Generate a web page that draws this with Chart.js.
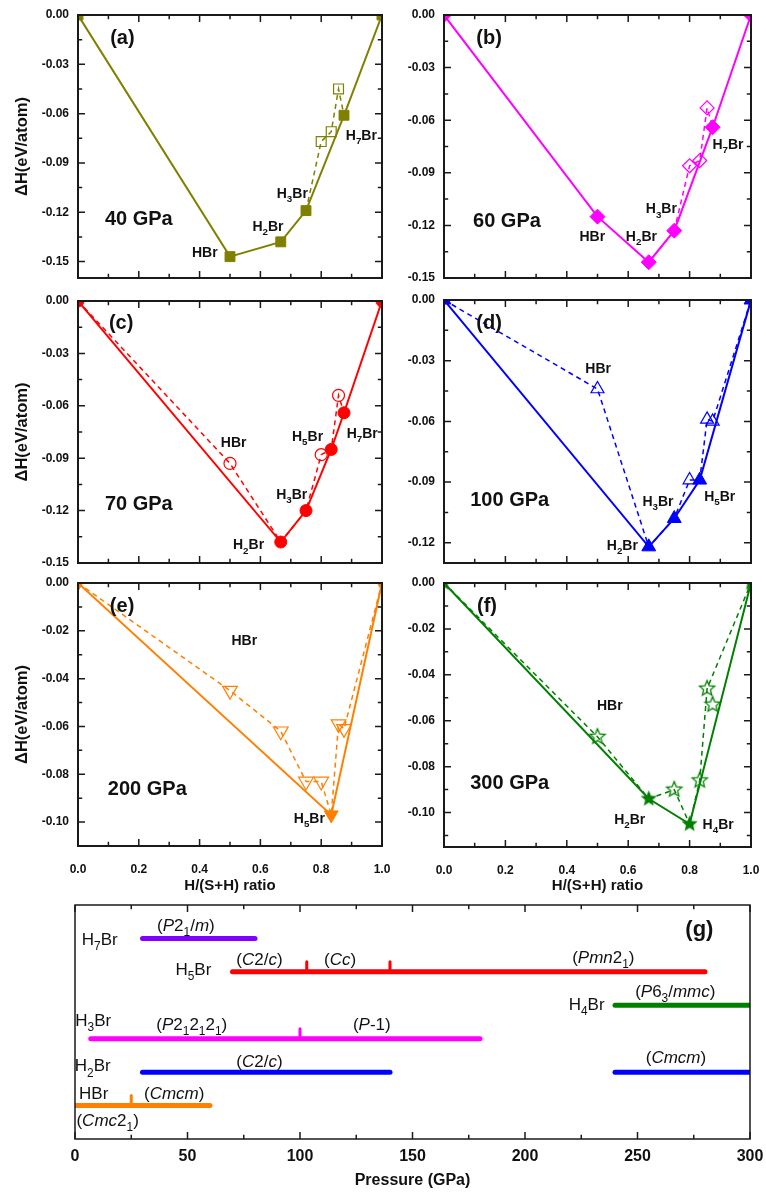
<!DOCTYPE html>
<html>
<head>
<meta charset="utf-8">
<script src="https://cdn.jsdelivr.net/npm/chart.js@4"></script>
<style>
  body { margin: 0; background: #fff; width: 766px; height: 1193px; position: relative; overflow: hidden; }
  canvas { position: absolute; }
</style>
</head>
<body>
<canvas id="pa" width="392" height="290" style="left:0;top:0"></canvas>
<canvas id="pb" width="383" height="290" style="left:383px;top:0"></canvas>
<canvas id="pc" width="392" height="290" style="left:0;top:290px"></canvas>
<canvas id="pd" width="383" height="290" style="left:383px;top:290px"></canvas>
<canvas id="pe" width="392" height="330" style="left:0;top:570px"></canvas>
<canvas id="pf" width="383" height="330" style="left:383px;top:570px"></canvas>
<canvas id="pg" width="766" height="298" style="left:0;top:895px"></canvas>
<script>
// tick values
const ratioTicks = [0, 0.2, 0.4, 0.6, 0.8, 1.0];
const dHTicks15 = [0, -0.03, -0.06, -0.09, -0.12, -0.15];
const dHTicks12 = [0, -0.03, -0.06, -0.09, -0.12];
const dHTicks10 = [0, -0.02, -0.04, -0.06, -0.08, -0.10];
const pressureTicks = [0, 50, 100, 150, 200, 250, 300];

// 40 GPa : [H/(S+H), dH]
const stable40 = [[0, 0], [0.5, -0.147], [0.667, -0.138], [0.75, -0.119], [0.875, -0.061], [1, 0]];
const meta40 = [[0.8, -0.077], [0.833, -0.071], [0.857, -0.045]];
const dash40 = [[0.75, -0.119], [0.8, -0.077], [0.833, -0.071], [0.857, -0.045], [0.875, -0.061]];

// 60 GPa
const stable60 = [[0, 0], [0.5, -0.115], [0.667, -0.141], [0.75, -0.123], [0.875, -0.064], [1, 0]];
const meta60 = [[0.8, -0.086], [0.833, -0.083], [0.857, -0.053]];
const dash60 = [[0.75, -0.123], [0.8, -0.086], [0.833, -0.083], [0.857, -0.053], [0.875, -0.064]];

// 70 GPa
const stable70 = [[0, 0], [0.667, -0.138], [0.75, -0.120], [0.833, -0.085], [0.875, -0.064], [1, 0]];
const meta70 = [[0.5, -0.093], [0.8, -0.088], [0.857, -0.054]];
const dash70 = [[0, 0], [0.5, -0.093], [0.667, -0.138], [0.75, -0.120], [0.8, -0.088], [0.833, -0.085], [0.857, -0.054], [0.875, -0.064]];

// 100 GPa
const stable100 = [[0, 0], [0.667, -0.122], [0.75, -0.108], [0.833, -0.089], [1, 0]];
const meta100 = [[0.5, -0.044], [0.8, -0.089], [0.857, -0.059], [0.875, -0.060]];
const dash100 = [[0, 0], [0.5, -0.044], [0.667, -0.122], [0.75, -0.108], [0.8, -0.089], [0.833, -0.089], [0.857, -0.059], [0.875, -0.060], [1, 0]];

// 200 GPa
const stable200 = [[0, 0], [0.833, -0.097], [1, 0]];
const meta200 = [[0.5, -0.045], [0.667, -0.062], [0.75, -0.083], [0.8, -0.083], [0.857, -0.059], [0.875, -0.061]];
const dash200 = [[0, 0], [0.5, -0.045], [0.667, -0.062], [0.75, -0.083], [0.8, -0.083], [0.833, -0.097], [0.857, -0.059], [0.875, -0.061], [1, 0]];

// 300 GPa
const stable300 = [[0, 0], [0.667, -0.094], [0.8, -0.105], [1, 0]];
const meta300 = [[0.5, -0.067], [0.75, -0.090], [0.833, -0.086], [0.857, -0.046], [0.875, -0.053]];
const dash300 = [[0, 0], [0.5, -0.067], [0.667, -0.094], [0.75, -0.090], [0.8, -0.105], [0.833, -0.086], [0.857, -0.046], [1, 0]];

// (g) stability ranges, pressure in GPa, row 1 = H7Br ... row 6 = HBr
const phaseRow = [1, 2, 3, 4, 5, 5, 6];
const phaseStart = [30, 70, 240, 7, 30, 240, 0];
const phaseEnd = [80, 280, 300, 180, 140, 300, 60];
const transRow = [2, 2, 4, 6];
const transP = [103, 140, 100, 25];

const FONT = 'Arial, "Liberation Sans", Helvetica, sans-serif';
const rowColors = { 1: '#8000ff', 2: '#ff0000', 3: '#008000', 4: '#ff00ff', 5: '#0000ff', 6: '#ff8000' };

const pts = arr => arr.map(p => ({ x: p[0], y: p[1] }));

function starImg(r, color, filled) {
  const c = document.createElement('canvas');
  const s = Math.ceil(2 * r + 4);
  c.width = c.height = s;
  const g = c.getContext('2d');
  g.beginPath();
  for (let i = 0; i < 10; i++) {
    const a = -Math.PI / 2 + i * Math.PI / 5;
    const rr = i % 2 ? r * 0.45 : r;
    g.lineTo(s / 2 + rr * Math.cos(a), s / 2 + rr * Math.sin(a));
  }
  g.closePath();
  if (filled) { g.fillStyle = color; g.fill(); }
  else { g.strokeStyle = color; g.lineWidth = 1.3; g.stroke(); }
  return c;
}

// text with _x subscripts and *italic* toggles
function drawRich(ctx, str, cx, cy, size, bold) {
  const segs = [];
  let italic = false;
  for (let i = 0; i < str.length; i++) {
    const ch = str[i];
    if (ch === '*') { italic = !italic; continue; }
    if (ch === '_') { segs.push({ t: str[i + 1], sub: true, it: italic }); i++; continue; }
    const last = segs[segs.length - 1];
    if (last && !last.sub && last.it === italic) last.t += ch;
    else segs.push({ t: ch, sub: false, it: italic });
  }
  const fontOf = s => (s.it ? 'italic ' : '') + (bold ? 'bold ' : '') + (s.sub ? size * 0.7 : size) + 'px ' + FONT;
  let total = 0;
  segs.forEach(s => { ctx.font = fontOf(s); s.w = ctx.measureText(s.t).width; total += s.w; });
  let x = cx - total / 2;
  ctx.textBaseline = 'middle';
  ctx.textAlign = 'left';
  segs.forEach(s => {
    ctx.font = fontOf(s);
    ctx.fillText(s.t, x, s.sub ? cy + size * 0.38 : cy);
    x += s.w;
  });
}

const framePlugin = {
  id: 'frame',
  afterDatasetsDraw(chart, args, opts) {
    const { ctx, chartArea: a, scales } = chart;
    ctx.save();
    ctx.strokeStyle = '#1a1a1a';
    ctx.lineWidth = opts.width || 2;
    ctx.strokeRect(a.left, a.top, a.right - a.left, a.bottom - a.top);
    ctx.lineWidth = 1.5;
    const mark = (scale, horiz, len) => {
      const vals = scale.ticks.map(t => t.value);
      const minor = [];
      for (let i = 0; i < vals.length - 1; i++) minor.push((vals[i] + vals[i + 1]) / 2);
      const step = vals[1] - vals[0];
      const ext = vals[vals.length - 1] + step / 2;
      if (ext >= Math.min(scale.min, scale.max) && ext <= Math.max(scale.min, scale.max)) minor.push(ext);
      const draw = (v, l) => {
        const p = scale.getPixelForValue(v);
        ctx.beginPath();
        if (horiz) {
          ctx.moveTo(p, a.bottom); ctx.lineTo(p, a.bottom - l);
          ctx.moveTo(p, a.top); ctx.lineTo(p, a.top + l);
        } else {
          ctx.moveTo(a.left, p); ctx.lineTo(a.left + l, p);
          ctx.moveTo(a.right, p); ctx.lineTo(a.right - l, p);
        }
        ctx.stroke();
      };
      vals.forEach(v => draw(v, len));
      minor.forEach(v => draw(v, len * 0.6));
    };
    mark(scales.x, true, 7);
    if (!opts.noY) mark(scales.y, false, 7);
    ctx.restore();
  },
  afterDraw(chart, args, opts) {
    const notes = opts.notes || [];
    const { ctx, scales } = chart;
    ctx.save();
    ctx.fillStyle = '#111';
    notes.forEach(n => {
      drawRich(ctx, n[0], scales.x.getPixelForValue(n[1]), scales.y.getPixelForValue(n[2]), n[3], n[4] !== false);
    });
    ctx.restore();
  }
};
Chart.register(framePlugin);

function makePanel(cfg) {
  const c = cfg.color;
  const filledStyle = cfg.star ? starImg(8.5, c, true) : cfg.style;
  const openStyle = cfg.star ? starImg(8, c, false) : cfg.style;
  new Chart(document.getElementById(cfg.id), {
    type: 'line',
    data: {
      datasets: [
        {
          data: pts(cfg.stable), borderColor: c, borderWidth: 2, tension: 0,
          pointStyle: filledStyle, pointRadius: cfg.rFilled, pointRotation: cfg.rot || 0,
          pointBackgroundColor: c, pointBorderColor: c, pointBorderWidth: 1
        },
        {
          data: pts(cfg.meta), showLine: false,
          pointStyle: openStyle, pointRadius: cfg.rOpen, pointRotation: cfg.rot || 0,
          pointBackgroundColor: 'rgba(255,255,255,0)', pointBorderColor: c, pointBorderWidth: 1.2
        },
        {
          data: pts(cfg.dash), borderColor: c, borderWidth: 1.5, borderDash: [5, 4], tension: 0, pointRadius: 0
        }
      ]
    },
    options: {
      responsive: false,
      animation: false,
      events: [],
      layout: { padding: cfg.pad },
      plugins: {
        legend: { display: false },
        tooltip: { enabled: false },
        frame: { notes: cfg.notes, width: 2 }
      },
      scales: {
        x: {
          type: 'linear', min: 0, max: 1,
          afterBuildTicks: s => { s.ticks = ratioTicks.map(v => ({ value: v })); },
          afterFit: s => { s.height = cfg.xH; s.paddingLeft = 0; s.paddingRight = 0; },
          grid: { display: false, drawTicks: false },
          border: { display: false },
          ticks: {
            display: cfg.xLabels, padding: 16, maxRotation: 0, autoSkip: false, color: '#111',
            font: { family: FONT, size: 12, weight: 'bold' },
            callback: v => v.toFixed(1)
          },
          title: {
            display: cfg.xLabels, text: 'H/(S+H) ratio', color: '#111',
            font: { family: FONT, size: 15, weight: 'bold' }, padding: { top: 0, bottom: 5 }
          }
        },
        y: {
          type: 'linear', min: cfg.yMin, max: 0,
          afterBuildTicks: s => { s.ticks = cfg.yTicks.map(v => ({ value: v })); },
          afterFit: s => { s.width = cfg.yW; s.paddingTop = 0; s.paddingBottom = 0; },
          grid: { display: false, drawTicks: false },
          border: { display: false },
          ticks: {
            padding: 9, color: '#111',
            font: { family: FONT, size: 12, weight: 'bold' },
            callback: v => v.toFixed(2)
          },
          title: {
            display: cfg.yTitle, text: '\u0394H(eV/atom)', color: '#111',
            font: { family: FONT, size: 16.5, weight: 'bold' }, padding: { top: 13, bottom: 0 }
          }
        }
      }
    }
  });
}

const L = { yW: 78, yTitle: true };
const R = { yW: 61, yTitle: false };

makePanel(Object.assign({}, L, {
  id: 'pa', color: '#808000', style: 'rect', rFilled: 7, rOpen: 7,
  stable: stable40, meta: meta40, dash: dash40, yMin: -0.16, yTicks: dHTicks15,
  xLabels: false, xH: 0, pad: { left: 0, right: 10, top: 15, bottom: 12 },
  notes: [['(a)', 0.146, -0.0141, 20], ['40 GPa', 0.2, -0.1245, 20], ['HBr', 0.417, -0.1447, 14],
          ['H_2Br', 0.625, -0.129, 14], ['H_3Br', 0.705, -0.109, 14], ['H_7Br', 0.932, -0.0735, 14]]
}));

makePanel(Object.assign({}, R, {
  id: 'pb', color: '#ff00ff', style: 'rectRot', rFilled: 7.5, rOpen: 7,
  stable: stable60, meta: meta60, dash: dash60, yMin: -0.15, yTicks: dHTicks15,
  xLabels: false, xH: 0, pad: { left: 0, right: 15, top: 15, bottom: 12 },
  notes: [['(b)', 0.147, -0.0133, 20], ['60 GPa', 0.205, -0.118, 20], ['HBr', 0.483, -0.1265, 14],
          ['H_2Br', 0.643, -0.1265, 14], ['H_3Br', 0.708, -0.111, 14], ['H_7Br', 0.925, -0.0742, 14]]
}));

makePanel(Object.assign({}, L, {
  id: 'pc', color: '#ff0000', style: 'circle', rFilled: 6, rOpen: 6,
  stable: stable70, meta: meta70, dash: dash70, yMin: -0.15, yTicks: dHTicks15,
  xLabels: false, xH: 0, pad: { left: 0, right: 10, top: 11, bottom: 17 },
  notes: [['(c)', 0.142, -0.0129, 20], ['70 GPa', 0.2, -0.1164, 20], ['HBr', 0.512, -0.0816, 14],
          ['H_5Br', 0.755, -0.0778, 14], ['H_7Br', 0.935, -0.0763, 14], ['H_3Br', 0.703, -0.111, 14],
          ['H_2Br', 0.561, -0.140, 14]]
}));

makePanel(Object.assign({}, R, {
  id: 'pd', color: '#0000ff', style: 'triangle', rFilled: 8, rOpen: 7.5,
  stable: stable100, meta: meta100, dash: dash100, yMin: -0.13, yTicks: dHTicks12,
  xLabels: false, xH: 0, pad: { left: 0, right: 15, top: 10, bottom: 17 },
  notes: [['(d)', 0.147, -0.0115, 20], ['100 GPa', 0.214, -0.0992, 20], ['HBr', 0.502, -0.0343, 14],
          ['H_3Br', 0.697, -0.1, 14], ['H_5Br', 0.898, -0.0973, 14], ['H_2Br', 0.581, -0.1217, 14]]
}));

makePanel(Object.assign({}, L, {
  id: 'pe', color: '#ff8000', style: 'triangle', rot: 180, rFilled: 8, rOpen: 8.5,
  stable: stable200, meta: meta200, dash: dash200, yMin: -0.11, yTicks: dHTicks10,
  xLabels: true, xH: 54, pad: { left: 0, right: 10, top: 13, bottom: 0 },
  notes: [['(e)', 0.145, -0.0097, 20], ['200 GPa', 0.228, -0.0862, 20], ['HBr', 0.547, -0.0243, 14],
          ['H_5Br', 0.761, -0.0987, 14]]
}));

makePanel(Object.assign({}, R, {
  id: 'pf', color: '#008000', star: true, rFilled: 8, rOpen: 7,
  stable: stable300, meta: meta300, dash: dash300, yMin: -0.115, yTicks: dHTicks10,
  xLabels: true, xH: 53, pad: { left: 0, right: 15, top: 13, bottom: 0 },
  notes: [['(f)', 0.14, -0.0102, 20], ['300 GPa', 0.214, -0.0873, 20], ['HBr', 0.54, -0.0536, 14],
          ['H_2Br', 0.605, -0.1032, 14], ['H_4Br', 0.893, -0.1055, 14]]
}));

// (g) pressure ranges
const gSets = phaseRow.map((r, i) => ({
  data: [{ x: phaseStart[i], y: r }, { x: phaseEnd[i], y: r }],
  borderColor: rowColors[r], borderWidth: 5, borderCapStyle: 'round', pointRadius: 0, clip: 0
})).concat(transRow.map((r, i) => ({
  data: [{ x: transP[i], y: r }, { x: transP[i], y: r - 0.3 }],
  borderColor: rowColors[r], borderWidth: 3, borderCapStyle: 'round', pointRadius: 0, clip: 0
})));

new Chart(document.getElementById('pg'), {
  type: 'line',
  data: { datasets: gSets },
  options: {
    responsive: false,
    animation: false,
    events: [],
    layout: { padding: { left: 75, right: 16, top: 10, bottom: 0 } },
    plugins: {
      legend: { display: false },
      tooltip: { enabled: false },
      frame: {
        width: 1.5, noY: true,
        notes: [
          ['H_7Br', 11, 1.05, 17, false], ['(*P*2_1/*m*)', 49.3, 0.65, 17, false],
          ['H_5Br', 52.6, 1.94, 17, false], ['(*C*2/*c*)', 82, 1.65, 17, false],
          ['(*Cc*)', 117.8, 1.65, 17, false], ['(*Pmn*2_1)', 234.8, 1.6, 17, false],
          ['H_4Br', 227.4, 2.99, 17, false], ['(*P*6_3/*mmc*)', 266.8, 2.6, 17, false],
          ['H_3Br', 8.1, 3.49, 17, false], ['(*P*2_12_12_1)', 51.9, 3.59, 17, false],
          ['(*P*-1)', 131.9, 3.59, 17, false], ['H_2Br', 7.9, 4.84, 17, false],
          ['(*C*2/*c*)', 82, 4.71, 17, false], ['(*Cmcm*)', 267.1, 4.59, 17, false],
          ['HBr', 8.3, 5.66, 17, false], ['(*Cmcm*)', 44.1, 5.66, 17, false],
          ['(*Cmc*2_1)', 14.5, 6.48, 17, false], ['(g)', 277.5, 0.75, 22]
        ]
      }
    },
    scales: {
      x: {
        type: 'linear', min: 0, max: 300,
        afterBuildTicks: s => { s.ticks = pressureTicks.map(v => ({ value: v })); },
        afterFit: s => { s.height = 54; s.paddingLeft = 0; s.paddingRight = 0; },
        grid: { display: false, drawTicks: false },
        border: { display: false },
        ticks: { padding: 8, maxRotation: 0, autoSkip: false, color: '#111', font: { family: FONT, size: 16, weight: 'bold' } },
        title: {
          display: true, text: 'Pressure (GPa)', color: '#111',
          font: { family: FONT, size: 16, weight: 'bold' }, padding: { top: 0, bottom: 3 }
        }
      },
      y: { type: 'linear', min: 0, max: 7, reverse: true, display: false }
    }
  }
});
</script>
</body>
</html>
